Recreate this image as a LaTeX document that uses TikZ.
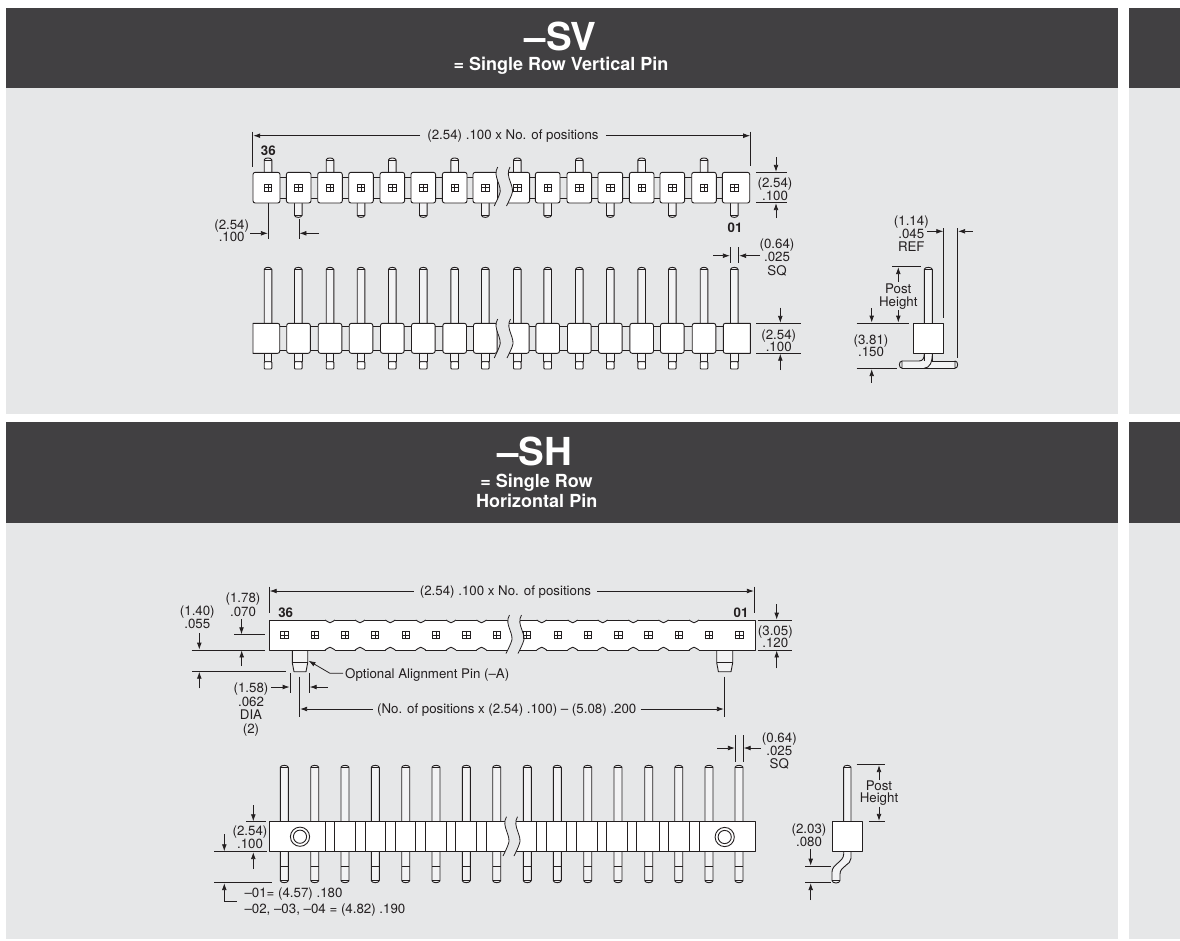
\documentclass[tikz,border=0pt]{standalone}
\usepackage{fontspec}
\setmainfont{TeX Gyre Heros}
\usetikzlibrary{arrows.meta}
\definecolor{hdr}{HTML}{414042}
\definecolor{panel}{HTML}{E6E7E8}
\definecolor{ink}{HTML}{231F20}
\definecolor{pinfill}{HTML}{F3F3F4}
\tikzset{
  outl/.style={draw=ink,line width=.9pt,line join=round},
  extl/.style={draw=ink,line width=.8pt},
  arr/.style={draw=ink,line width=.8pt,-{Latex[length=7pt,width=4.8pt]}},
  txt/.style={text=ink,inner sep=0pt,font=\fontsize{13.3}{12.8}\selectfont},
  ttl/.style={text=white,inner sep=0pt,anchor=base},
}
% label: name, x, y of centre of first line, text
\newcommand\lab[4]{\node[txt,align=center,anchor=north] (#1) at (#2,{#3-4.8}) {\vphantom{(}#4};}
\newcommand\bld[4]{\node[txt,font=\fontsize{13.3}{13}\selectfont\bfseries,anchor=base] (#1) at (#2,{#3+4.7}) {#4};}
\newcommand\hole[2]{\draw[draw=ink,line width=.7pt] ({#1-3.6},{#2-3.6}) rectangle ({#1+3.6},{#2+3.6}) ({#1-3.6},#2) -- ({#1+3.6},#2) (#1,{#2-3.6}) -- (#1,{#2+3.6});}
% pins
\newcommand\pinU[4]{\filldraw[outl,fill=pinfill] ({#1-#4},#2) -- ({#1-#4},{#3+2.6}) .. controls ({#1-#4+.6},#3) and ({#1+#4-.6},#3) .. ({#1+#4},{#3+2.6}) -- ({#1+#4},#2); \draw[ink,line width=.6pt] ({#1-#4},{#3+2.6}) -- ({#1+#4},{#3+2.6});}
\newcommand\pinD[4]{\filldraw[outl,fill=pinfill] ({#1-#4},#2) -- ({#1-#4},{#3-2.6}) .. controls ({#1-#4+.6},#3) and ({#1+#4-.6},#3) .. ({#1+#4},{#3-2.6}) -- ({#1+#4},#2); \draw[ink,line width=.6pt] ({#1-#4},{#3-2.6}) -- ({#1+#4},{#3-2.6});}
% break: x1,x2,ya,yb
\newcommand\brk[4]{%
 \fill[panel] ({#1+2},#3) .. controls ({#1-4},{#3+.25*(#4-#3)}) and ({#1+8},{#3+.5*(#4-#3)}) .. ({#1+3.5},{#3+.72*(#4-#3)}) .. controls ({#1+2},{#3+.82*(#4-#3)}) and ({#1},{#3+.92*(#4-#3)}) .. ({#1-1.5},#4)
   -- ({#2-1.5},#4) .. controls ({#2},{#3+.92*(#4-#3)}) and ({#2+2},{#3+.82*(#4-#3)}) .. ({#2+3.5},{#3+.72*(#4-#3)}) .. controls ({#2+8},{#3+.5*(#4-#3)}) and ({#2-4},{#3+.25*(#4-#3)}) .. ({#2+2},#3) -- cycle;
 \draw[ink,line width=.8pt] ({#1+2},#3) .. controls ({#1-4},{#3+.25*(#4-#3)}) and ({#1+8},{#3+.5*(#4-#3)}) .. ({#1+3.5},{#3+.72*(#4-#3)}) .. controls ({#1+2},{#3+.82*(#4-#3)}) and ({#1},{#3+.92*(#4-#3)}) .. ({#1-1.5},#4);
 \draw[ink,line width=.8pt] ({#2+2},#3) .. controls ({#2-4},{#3+.25*(#4-#3)}) and ({#2+8},{#3+.5*(#4-#3)}) .. ({#2+3.5},{#3+.72*(#4-#3)}) .. controls ({#2+2},{#3+.82*(#4-#3)}) and ({#2},{#3+.92*(#4-#3)}) .. ({#2-1.5},#4);
}
\newcommand\notch[1]{%
 \draw[panel,line width=1.6pt] ({#1-4.5},620) -- ({#1+4.5},620) ({#1-4.5},650) -- ({#1+4.5},650);
 \filldraw[outl,fill=panel] ({#1-5},620) .. controls ({#1-2.8},620) and ({#1-3},622.8) .. (#1,622.8) .. controls ({#1+3},622.8) and ({#1+2.8},620) .. ({#1+5},620);
 \filldraw[outl,fill=panel] ({#1-5},650) .. controls ({#1-2.8},650) and ({#1-3},647.2) .. (#1,647.2) .. controls ({#1+3},647.2) and ({#1+2.8},650) .. ({#1+5},650);
}
\begin{document}
\begin{tikzpicture}[x=1pt,y=-1pt]
\useasboundingbox (0,0) rectangle (1180,940);
\fill[white] (0,0) rectangle (1180,940);
% panels
\fill[hdr] (6,8) rectangle (1118,88);
\fill[panel] (6,88) rectangle (1118,414);
\fill[hdr] (1129,8) rectangle (1180,88);
\fill[panel] (1129,88) rectangle (1180,414);
\fill[hdr] (6,422) rectangle (1118,522.5);
\fill[panel] (6,522.5) rectangle (1118,939);
\fill[hdr] (1129,422) rectangle (1180,522.5);
\fill[panel] (1129,522.5) rectangle (1180,939);
% titles
\node[ttl,font=\fontsize{38.5}{39}\selectfont\bfseries] (t1) at (560.7,50) {–SV};
\node[ttl,font=\fontsize{18}{19}\selectfont\bfseries] (t2) at (561,70.7) {= Single Row Vertical Pin};
\node[ttl,font=\fontsize{38.5}{39}\selectfont\bfseries] (t3) at (535,465) {–SH};
\node[ttl,font=\fontsize{18}{19}\selectfont\bfseries] (t4) at (536.5,487.3) {= Single Row};
\node[ttl,font=\fontsize{18}{19}\selectfont\bfseries] (t5) at (536.7,507.7) {Horizontal Pin};

%% ---- SV top view
\filldraw[outl,fill=panel] (268,177.3) rectangle (734,198);
\foreach \x in {268,330,392.3,454.7,517.3,579.3,641.7,704} {\pinU{\x}{172.3}{157.3}{3.8}}
\foreach \x in {298.3,361,423.3,485.3,547.7,610.3,672.3,734.3} {\pinD{\x}{203}{218}{3.8}}
\filldraw[outl,fill=white,rounded corners=2.2pt] (253,172.3) rectangle (280,203);
\foreach \x in {298.7,330,361,392.3,423.3,454.7,485.3,517.3,547.7,579.3,610.3,641.7,672.3,704} {\filldraw[outl,fill=white,rounded corners=2.2pt] ({\x-12.3},172.3) rectangle ({\x+12.3},203);}
\filldraw[outl,fill=white,rounded corners=2.2pt] (722.3,172.3) rectangle (749.7,203);
\brk{495.7}{508}{167}{206}
\foreach \x in {268,298.3,330,361,392.3,423.3,454.7,485.3,517.3,547.7,579.3,610.3,641.7,672.3,704,734.3} {\hole{\x}{187.7}}
\bld{n36a}{268.3}{150.7}{36}
\bld{n01a}{735}{227.3}{01}
\node[txt,anchor=base] (w1) at (513,{134.3+4.7}) {(2.54) .100 x No. of positions};
\coordinate (e1a) at (252.7,131.7); \coordinate (e1b) at (252.7,166.7);
\coordinate (e2a) at (750.7,131.7); \coordinate (e2b) at (750.7,166.3);
\draw[extl] (e1a) -- (e1b); \draw[extl] (e2a) -- (e2b);
\draw[arr] (w1.west |- 0,135.7) ++(-7,0) -- (253.2,135.7);
\draw[arr] (w1.east |- 0,135.7) ++(7,0) -- (750.2,135.7);
\lab{l1}{231.7}{224}{(2.54)\\.100}
\draw[extl] (268.3,203) -- (268.3,239);
\draw[extl] (299,219) -- (299,239);
\draw[arr] (250,233.3) -- (267.9,233.3);
\draw[arr] (319,233.3) -- (299.4,233.3);
\lab{l2}{775}{182.3}{(2.54)\\.100}
\draw[extl] (756.3,172.3) -- (786.7,172.3);
\draw[extl] (756.3,202.7) -- (786.7,202.7);
\draw[arr] (776,157.3) -- (776,171.9);
\draw[arr] (776,218) -- (776,203.1);
\lab{l3}{777}{243}{(0.64)\\[.7pt].025\\[.7pt]SQ}
\draw[extl] (730.3,247) -- (730.3,263.3);
\draw[extl] (738.7,247) -- (738.7,263.3);
\draw[arr] (713.3,255.7) -- (729.9,255.7);
\draw[arr] (760,255.7) -- (739.1,255.7);

%% ---- SV front view
\filldraw[outl,fill=panel] (268,326) rectangle (734,350.7);
\foreach \x in {268,298.3,330,361,392.3,423.3,454.7,485.3,517.3,547.7,579.3,610.3,641.7,672.3,704,734.3} {%
  \pinU{\x}{323.3}{266.7}{3.8}
  \filldraw[outl,fill=pinfill] ({\x-3.8},353.3) rectangle ({\x+3.8},361.7);
  \filldraw[outl,fill=white,rounded corners=.8pt] ({\x-3.8},361.7) rectangle ({\x+3.8},369);
}
\filldraw[outl,fill=white,rounded corners=0pt] (253,323.3) -- (277,323.3) [rounded corners=2pt] -- (279.7,323.3) -- (279.7,353.3) [rounded corners=0pt] -- (253,353.3) -- cycle;
\foreach \x in {298.5,330,361,392.3,423.3,454.7,485.3,517.3,547.7,579.3,610.3,641.7,672.3,704} {\filldraw[outl,fill=white,rounded corners=2.2pt] ({\x-11.8},323.3) rectangle ({\x+11.8},353.3);}
\filldraw[outl,fill=white,rounded corners=2pt] (750.3,353.3) -- (723.3,353.3) -- (723.3,323.3) [rounded corners=0pt] -- (750.3,323.3) -- cycle;
\brk{495.7}{508.5}{319}{358}
\lab{l4}{778.7}{334}{(2.54)\\.100}
\draw[extl] (756.3,323.3) -- (800.7,323.3);
\draw[extl] (756.3,353.3) -- (800.7,353.3);
\draw[arr] (780.3,307.7) -- (780.3,322.9);
\draw[arr] (780.3,370) -- (780.3,353.7);

%% ---- SV side view
\pinU{928.3}{323.3}{266.7}{4}
\filldraw[outl,fill=pinfill] (924.3,353.3) rectangle (932.3,362);
\fill[pinfill] (901,361.2) rectangle (956,368.3);
\draw[outl] (902,361) -- (919,361) .. controls (923,361) and (924.3,358) .. (924.3,353.3);
\draw[outl] (902,368.3) -- (955,368.3);
\fill[pinfill] (924.8,353.3) rectangle (932,361.5);
\draw[outl] (932.3,361) -- (955,361);
\draw[outl] (932.3,353.3) .. controls (932.3,362) and (930,368) .. (924,368.3);
\draw[outl] (902,361) .. controls (898.5,361) and (898.5,368.3) .. (902,368.3) -- cycle;
\draw[outl] (955,361) .. controls (958.5,361) and (958.5,368.3) .. (955,368.3) -- cycle;
\filldraw[outl,fill=white] (913.3,323.3) rectangle (943.3,353.3);
\lab{l5}{911.3}{220}{(1.14)\\[.2pt].045\\[.2pt]REF}
\draw[extl] (943.7,228.3) -- (943.7,318.3);
\draw[extl] (957.7,228.3) -- (957.7,358);
\draw[arr] (927.3,231.3) -- (943.3,231.3);
\draw[arr] (972.7,231.3) -- (958.1,231.3);
\lab{l6}{898.3}{288.3}{Post\\Height}
\draw[extl] (892.3,266.7) -- (921,266.7);
\draw[extl] (856.7,323) -- (908.7,323);
\draw[arr] (898.3,281.7) -- (898.3,267.1);
\draw[arr] (898.3,310) -- (898.3,322.6);
\draw[arr] (871.7,308.3) -- (871.7,322.6);
\lab{l7}{871}{339}{(3.81)\\.150}
\draw[extl] (856.7,368.7) -- (897.3,368.7);
\draw[arr] (871.7,382.7) -- (871.7,369.1);

%% ---- SH top view
\filldraw[outl,fill=pinfill] (292.3,650) -- (292.3,662.7) -- (294,671.7) -- (306,671.7) -- (307.7,662.7) -- (307.7,650);
\draw[ink,line width=.7pt] (292.3,662.7) -- (307.7,662.7);
\filldraw[outl,fill=pinfill] (716.7,650) -- (716.7,662.7) -- (718.4,671.7) -- (731,671.7) -- (732.7,662.7) -- (732.7,650);
\draw[ink,line width=.7pt] (716.7,662.7) -- (732.7,662.7);
\filldraw[outl,fill=white] (269.7,620) rectangle (755,650);
\foreach \x in {330,360,390.3,420.8,451,481.5,541.7,572.7,602.7,633.3,663.5,694} {\notch{\x}}
\brk{507.5}{519.5}{615}{653.5}
\foreach \x in {284.3,314.7,345,375,405.7,436,466.3,496.7,526.7,557.7,587.7,618.3,648.3,678.7,709,739.3} {\hole{\x}{635}}
\bld{n36b}{285.7}{612.3}{36}
\bld{n01b}{741}{612.3}{01}
\node[txt,anchor=base] (w2) at (505.5,{590.7+4.7}) {(2.54) .100 x No. of positions};
\draw[extl] (269.3,586.7) -- (269.3,613.3);
\draw[extl] (754.3,586.7) -- (754.3,613.3);
\draw[arr] (w2.west |- 0,591) ++(-6,0) -- (269.7,591);
\draw[arr] (w2.east |- 0,591) ++(6,0) -- (753.9,591);
\lab{l8}{775.3}{630}{(3.05)\\.120}
\draw[extl] (757.7,620) -- (791.7,620);
\draw[extl] (757.7,650) -- (791.7,650);
\draw[arr] (776.7,604) -- (776.7,619.6);
\draw[arr] (776.7,668.3) -- (776.7,650.4);
\lab{l9}{197.3}{610}{(1.40)\\[.8pt].055}
\lab{l10}{243}{597.7}{(1.78)\\[.8pt].070}
\draw[arr] (241.5,619.3) -- (241.5,634.3);
\draw[extl] (234,634.7) -- (265,634.7);
\draw[extl] (191.7,650) -- (265,650);
\draw[arr] (241.7,666) -- (241.7,650.4);
\draw[arr] (199.3,633.3) -- (199.3,649.6);
\draw[extl] (192,671.3) -- (286,671.3);
\draw[arr] (199.3,688.3) -- (199.3,671.7);
\node[txt,anchor=base west] (l11) at (345,{673.3+4.7}) {Optional Alignment Pin (–A)};
\draw[arr] (l11.west |- 0,673.3) ++(-2,0) -- (330,673.3) -- (308.5,660.7);
\lab{l12}{251}{687.7}{(1.58)\\[.4pt].062\\[.4pt]DIA\\[1pt](2)}
\draw[extl] (290,673.3) -- (290,692.7);
\draw[extl] (309.3,673.3) -- (309.3,692.7);
\draw[arr] (271,687) -- (289.6,687);
\draw[arr] (327.7,687) -- (309.7,687);
\draw[extl] (299.7,676.7) -- (299.7,716.7);
\draw[extl] (724.3,676.7) -- (724.3,716.7);
\node[txt,anchor=base] (w3) at (506.7,{709+4.7}) {(No. of positions x (2.54) .100) – (5.08) .200};
\draw[arr] (w3.west |- 0,709) ++(-4,0) -- (300.1,709);
\draw[arr] (w3.east |- 0,709) ++(4,0) -- (723.9,709);
\lab{l13}{779.3}{737.3}{(0.64)\\[.7pt].025\\[.2pt]SQ}
\draw[extl] (735.3,735) -- (735.3,761.7);
\draw[extl] (743.3,735) -- (743.3,761.7);
\draw[arr] (717.3,748) -- (734.9,748);
\draw[arr] (760.7,748) -- (743.7,748);

%% ---- SH front view
\foreach \x in {284.3,314.7,345,375.3,405.7,436,466.3,496.7,527.3,557.3,587.7,618,648.7,678.7,709,739} {%
  \pinU{\x}{821.7}{764.7}{4}
  \pinD{\x}{851.7}{883.3}{4}
  \draw[ink,line width=.6pt] ({\x-4},866.7) -- ({\x+4},866.7);
}
\filldraw[outl,fill=white] (269.7,821.7) rectangle (755,851.7);
\foreach \x in {325,334.7,355.3,365,385.7,395.3,415.7,425.7,446,455.7,476.3,486,536.3,546.3,566.7,576.3,597,606.7,627.3,636.7,659,668.7,689.3,699} {\draw[outl] (\x,821.7) -- (\x,851.7);}
\foreach \x/\y in {300/836.7,724.7/837} {\draw[outl] (\x,\y) circle (9.6); \draw[outl] (\x,\y) circle (6.6);}
\brk{504.5}{515.5}{816.7}{856}
\lab{l14}{250}{830.7}{(2.54)\\.100}
\draw[arr] (253.3,805) -- (253.3,821.3);
\draw[extl] (246,821.5) -- (266,821.5);
\draw[arr] (224.3,834) -- (224.3,851.3);
\draw[extl] (214,851.7) -- (267,851.7);
\draw[arr] (253.3,869) -- (253.3,852.1);
\draw[extl] (214,882.7) -- (272,882.7);
\draw[arr] (236.7,901.7) -- (224.3,901.7) -- (224.3,883.1);
\node[txt,anchor=base west] (l15) at (244.3,{892.7+4.7}) {–01= (4.57) .180};
\node[txt,anchor=base west] (l16) at (244.3,{909+4.7}) {–02, –03, –04 = (4.82) .190};

%% ---- SH side view
\filldraw[outl,fill=pinfill] (851,851.7) -- (851,858.3) .. controls (851,865) and (840,866) .. (840,874) -- (840,880.5) .. controls (840,883.8) and (832,883.8) .. (832,880.5) -- (832,872) .. controls (832,864) and (843.7,862) .. (843.7,854) -- (843.7,851.7);
\pinU{847.3}{821.5}{764.7}{3.7}
\draw[ink,line width=.6pt] (832,880.5) -- (840,880.5);
\filldraw[outl,fill=white] (832,821.3) rectangle (862.7,851.7);
\draw[extl] (856.7,764.7) -- (885,764.7);
\draw[extl] (869.3,821.3) -- (885,821.3);
\draw[arr] (879,780) -- (879,765.1);
\draw[arr] (879,806.7) -- (879,820.9);
\lab{l17}{879}{785}{Post\\Height}
\lab{l18}{809}{828.7}{(2.03)\\.080}
\draw[arr] (810.7,849.3) -- (810.7,865.6);
\draw[extl] (805.3,866) -- (831,866);
\draw[extl] (805.3,882.7) -- (831,882.7);
\draw[arr] (810.7,900) -- (810.7,883.1);
\end{tikzpicture}
\end{document}
